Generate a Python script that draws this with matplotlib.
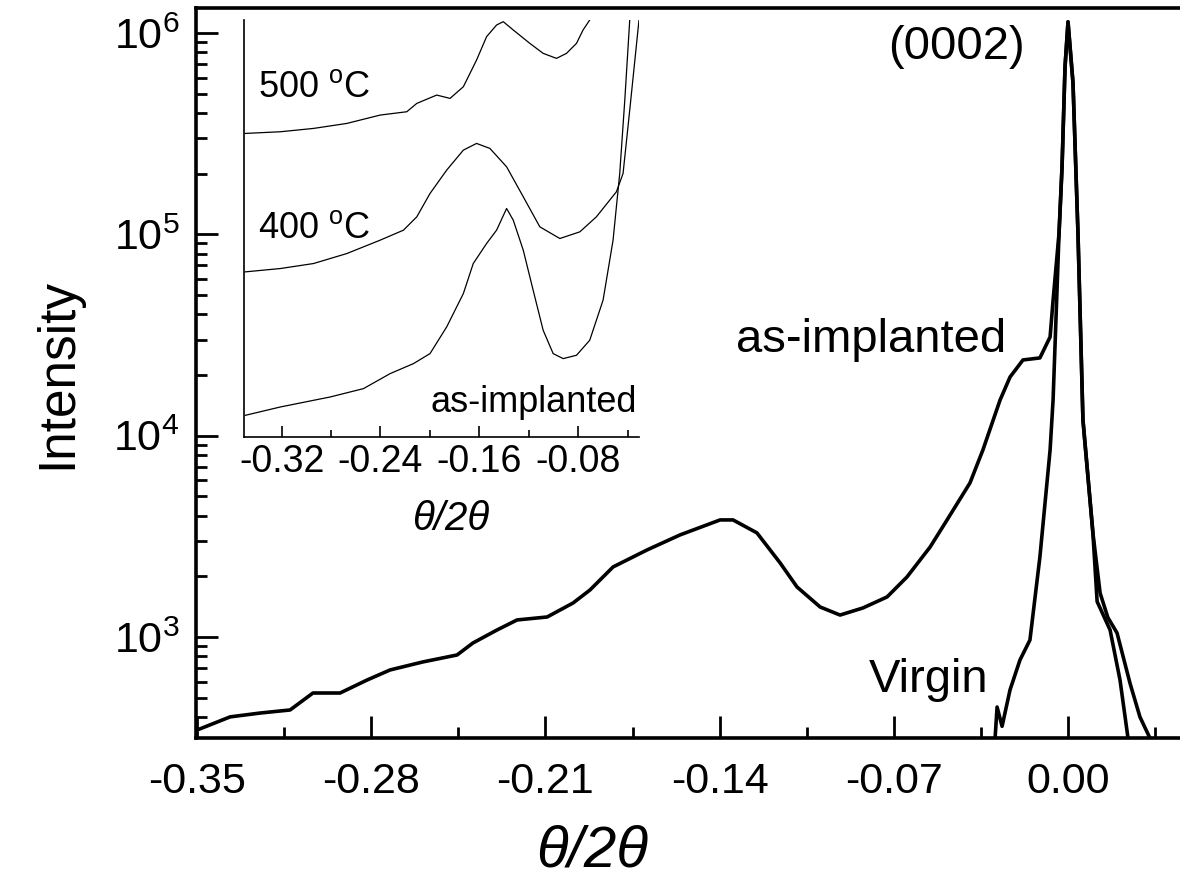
import matplotlib
matplotlib.use("Agg")
import matplotlib.pyplot as plt
from matplotlib.ticker import MultipleLocator, LogLocator, LogFormatterMathtext, NullFormatter, FormatStrFormatter

plt.rcParams['font.family'] = ['Liberation Sans', 'DejaVu Sans']
plt.rcParams['mathtext.fontset'] = 'custom'
plt.rcParams['mathtext.rm'] = 'Liberation Sans'
plt.rcParams['mathtext.it'] = 'Liberation Sans:italic'

# ---------------- main panel data (theta/2theta, intensity) ----------------
implanted_x = [-0.3500, -0.3367, -0.3247, -0.3126, -0.3034, -0.2925, -0.2817, -0.2724,
               -0.2592, -0.2455, -0.2391, -0.2294, -0.2214, -0.2093, -0.1989, -0.1921,
               -0.1828, -0.1692, -0.1559, -0.1398, -0.1346, -0.1250, -0.1157, -0.1089,
               -0.0996, -0.0916, -0.0824, -0.0727, -0.0647, -0.0554, -0.0486, -0.0394,
               -0.0342, -0.0273, -0.0233, -0.0181, -0.0113, -0.0072, -0.0060, -0.0036,
               -0.0024, -0.0012, 0.0000, 0.0020, 0.0040, 0.0060, 0.0100, 0.0129,
               0.0160, 0.0197, 0.0249, 0.0289, 0.0329]
implanted_y = [345, 401, 419, 434, 527, 527, 611, 686,
               752, 814, 934, 1084, 1215, 1257, 1475, 1711,
               2228, 2704, 3213, 3814, 3814, 3289, 2334, 1772,
               1409, 1285, 1394, 1581, 1987, 2799, 3814, 5821,
               8490, 15030, 19540, 23760, 24320, 30900, 47000, 101600,
               216000, 678000, 1135000, 565000, 101600, 11970, 3289, 1652,
               1250, 1047, 590, 401, 315]

virgin_x = [-0.0293, -0.0285, -0.0265, -0.0233, -0.0193, -0.0153, -0.0113, -0.0072,
            -0.0060, -0.0036, -0.0024, -0.0012, 0.0000, 0.0020, 0.0040, 0.0060,
            0.0100, 0.0117, 0.0169, 0.0209, 0.0241]
virgin_y = [315, 449, 360, 546, 769, 966, 2494, 8490,
            15030, 101600, 216000, 678000, 1135000, 565000, 101600, 11970,
            3289, 1500, 1084, 611, 315]

# ---------------- inset data (theta/2theta, offset log-intensity a.u.) ----------------
ins_impl_x = [-0.3494, -0.3211, -0.2807, -0.2538, -0.2322, -0.2133, -0.1999, -0.1864,
              -0.1729, -0.1649, -0.1541, -0.1460, -0.1379, -0.1325, -0.1244, -0.1164,
              -0.1083, -0.1002, -0.0921, -0.0813, -0.0706, -0.0598, -0.0517, -0.0463,
              -0.0422, -0.0382]
ins_impl_y = [5.2, 7.2, 9.6, 11.6, 15.2, 17.6, 20.0, 26.4,
              34.4, 41.6, 46.4, 49.6, 54.8, 52.0, 44.8, 35.2,
              25.6, 20.0, 18.8, 19.6, 23.2, 32.8, 47.2, 63.2,
              80.8, 100.0]

ins_400_x = [-0.3494, -0.3211, -0.2942, -0.2672, -0.2403, -0.2214, -0.2106, -0.1999,
             -0.1864, -0.1729, -0.1622, -0.1514, -0.1379, -0.1244, -0.1110, -0.0948,
             -0.0786, -0.0652, -0.0490, -0.0436, -0.0382, -0.0307]
ins_400_y = [39.6, 40.4, 41.6, 44.0, 47.2, 49.6, 52.8, 58.4,
             64.0, 68.8, 70.4, 69.2, 64.8, 57.6, 50.4, 47.6,
             49.2, 52.8, 58.8, 63.2, 78.4, 100.0]

ins_500_x = [-0.3494, -0.3211, -0.2942, -0.2672, -0.2403, -0.2187, -0.2106, -0.1945,
             -0.1837, -0.1729, -0.1622, -0.1541, -0.1460, -0.1406, -0.1325, -0.1191,
             -0.1083, -0.0975, -0.0894, -0.0813, -0.0760, -0.0706]
ins_500_y = [72.8, 73.2, 74.0, 75.2, 77.2, 78.0, 80.0, 82.0,
             81.2, 84.0, 90.4, 96.0, 98.8, 99.6, 97.6, 94.4,
             92.0, 90.8, 92.0, 94.4, 97.6, 100.0]

main_xticks = [-0.35, -0.28, -0.21, -0.14, -0.07, 0.00]
inset_xticks = [-0.32, -0.24, -0.16, -0.08]

# ---------------- figure ----------------
fig = plt.figure(figsize=(11.8, 8.9), dpi=100)
ax = fig.add_axes([196/1180, 1 - 738/890, 984/1180, 730/890])

ax.plot(implanted_x, implanted_y, color='black', lw=2.6)
ax.plot(virgin_x, virgin_y, color='black', lw=2.6)

ax.set_yscale('log')
ax.set_xlim(-0.3504, 0.045)
ax.set_ylim(315, 1.33e6)
ax.set_xticks(main_xticks)
ax.xaxis.set_major_formatter(FormatStrFormatter('%.2f'))
ax.xaxis.set_minor_locator(MultipleLocator(0.035))
ax.yaxis.set_major_locator(LogLocator(base=10, numticks=10))
ax.yaxis.set_minor_locator(LogLocator(base=10, subs=range(2, 10), numticks=50))
ax.yaxis.set_minor_formatter(NullFormatter())
ax.yaxis.set_major_formatter(LogFormatterMathtext())

for s in ['left', 'bottom', 'top']:
    ax.spines[s].set_linewidth(2.6)
ax.spines['right'].set_visible(False)

ax.tick_params(which='both', direction='in', width=2.0, top=False, right=False)
ax.tick_params(which='major', length=16)
ax.tick_params(which='minor', length=8)
ax.tick_params(axis='x', which='major', labelsize=31, pad=17)
ax.tick_params(axis='y', which='major', labelsize=31, pad=12)

ax.set_ylabel('Intensity', fontsize=37, labelpad=22)
ax.set_xlabel('θ/2θ', fontsize=42, style='italic')
ax.xaxis.set_label_coords((592 - 196) / 984, -0.118)

ax.text(0.773, 0.946, '(0002)', transform=ax.transAxes, fontsize=34, ha='center', va='center')
ax.text(0.686, 0.545, 'as-implanted', transform=ax.transAxes, fontsize=34, ha='center', va='center')
ax.text(0.745, 0.079, 'Virgin', transform=ax.transAxes, fontsize=34, ha='center', va='center')

# ---------------- inset ----------------
axi = fig.add_axes([244/1180, 1 - 437/890, 395/1180, 417/890])
axi.set_facecolor('white')
axi.plot(ins_impl_x, ins_impl_y, color='black', lw=0.9)
axi.plot(ins_400_x, ins_400_y, color='black', lw=0.9)
axi.plot(ins_500_x, ins_500_y, color='black', lw=0.9)
axi.set_xlim(-0.3505, -0.0307)
axi.set_ylim(0, 100)
axi.spines['top'].set_visible(False)
axi.spines['right'].set_visible(False)
axi.spines['left'].set_linewidth(1.2)
axi.spines['bottom'].set_linewidth(1.2)
axi.set_yticks([])
axi.set_xticks(inset_xticks)
axi.xaxis.set_major_formatter(FormatStrFormatter('%.2f'))
axi.xaxis.set_minor_locator(MultipleLocator(0.04))
axi.tick_params(which='both', direction='in', width=1.2)
axi.tick_params(which='major', length=8, labelsize=27, pad=5)
axi.tick_params(which='minor', length=5)
axi.set_xlabel('θ/2θ', fontsize=29, style='italic')
axi.xaxis.set_label_coords((451 - 244) / 395, -0.15)

axi.text(0.035, 0.837, '500 $^{\\mathregular{o}}$C', transform=axi.transAxes, fontsize=26, ha='left', va='center')
axi.text(0.035, 0.501, '400 $^{\\mathregular{o}}$C', transform=axi.transAxes, fontsize=26, ha='left', va='center')
axi.text(0.995, 0.082, 'as-implanted', transform=axi.transAxes, fontsize=26, ha='right', va='center')

fig.savefig('out.png', dpi=100)
